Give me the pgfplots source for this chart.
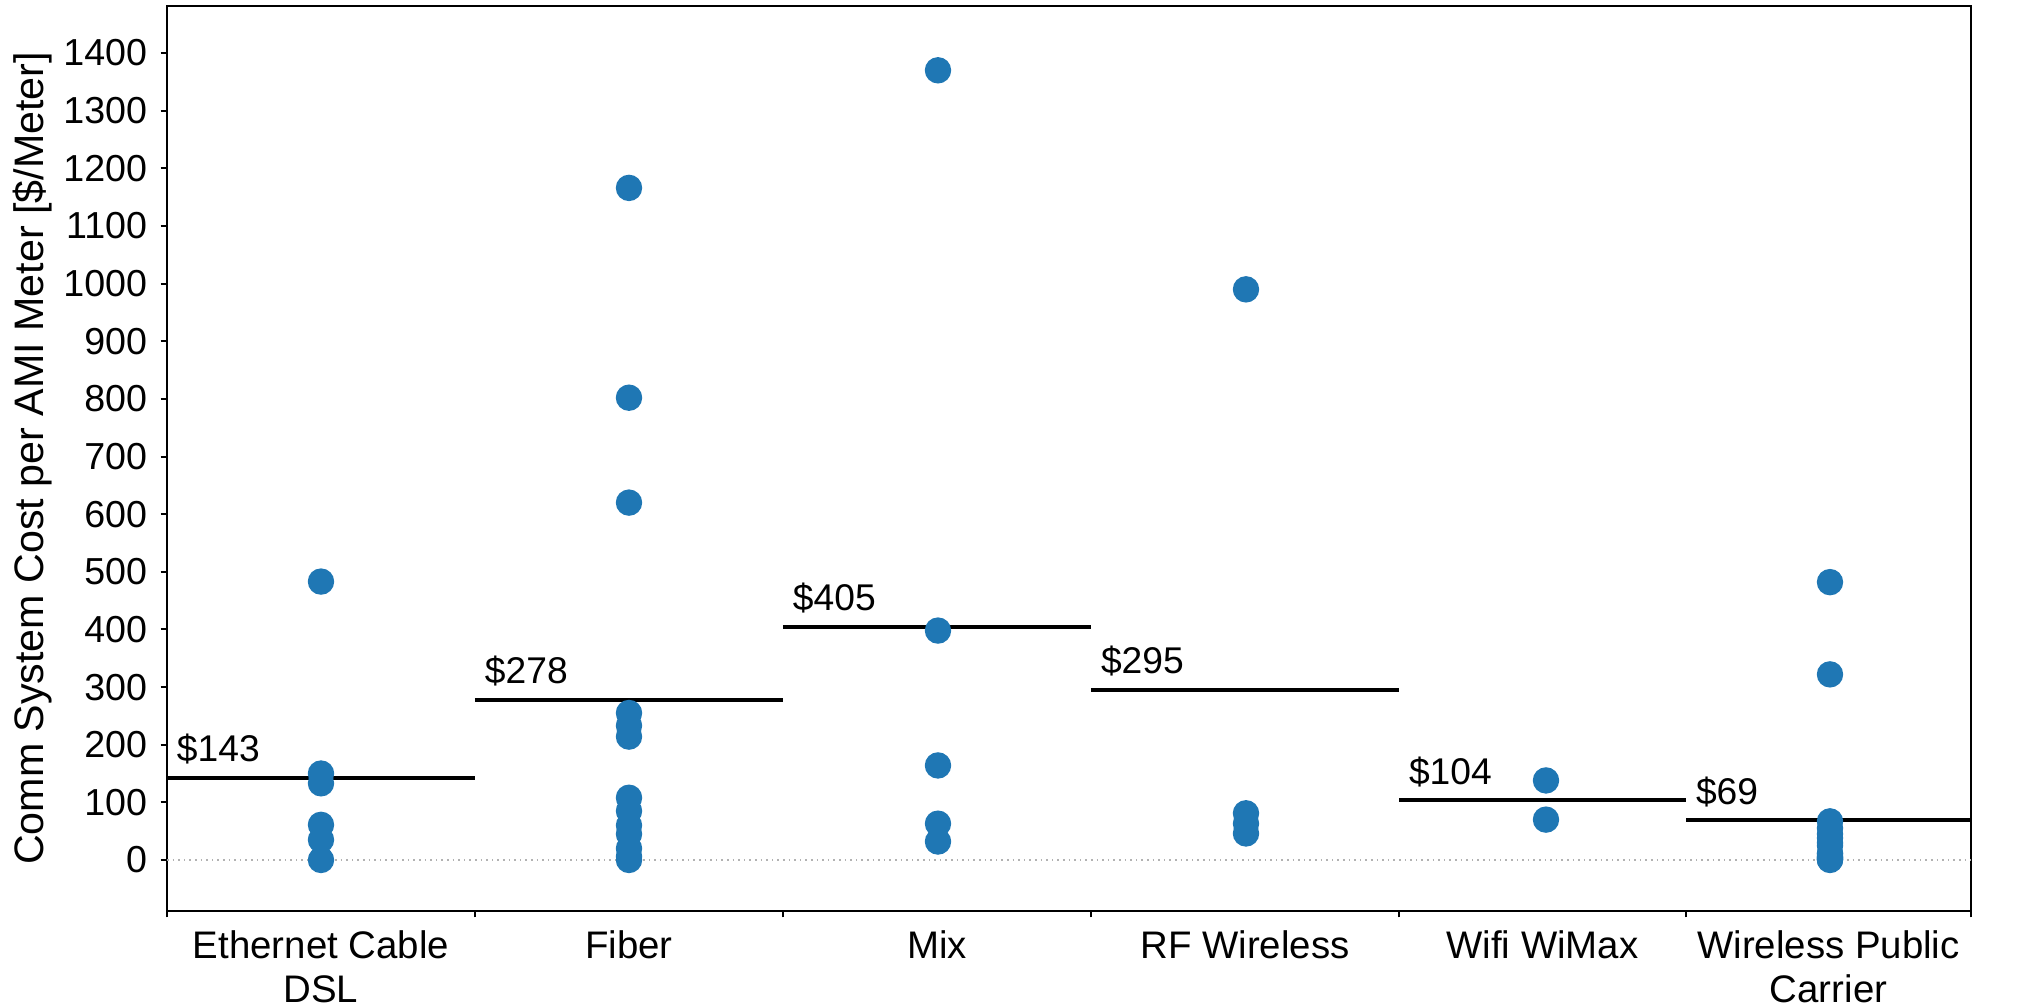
\documentclass[border=0pt]{standalone}
\usepackage{fontspec}
\setmainfont{Liberation Sans}
\usepackage{pgfplots}
\pgfplotsset{compat=1.18}
\definecolor{dotblue}{HTML}{1F77B4}
\begin{document}
\fontsize{9.3}{11}\selectfont
\begin{tikzpicture}
\path[use as bounding box] (-41.75pt,-23.5pt) rectangle (462.5pt,227.75pt);
\begin{axis}[
    at={(0pt,0pt)}, anchor=south west,
    scale only axis,
    width=451pt, height=226.25pt,
    xmin=0, xmax=18.04,
    ymin=-88.5, ymax=1481.6,
    axis line style={line width=0.7pt},
    tick pos=left, tick align=outside,
    major tick length=1.6pt,
    tick style={black, line width=0.5pt},
    xtick={0,3.08,6.16,9.24,12.32,15.19,18.04},
    xticklabels={},
    extra x ticks={1.54,4.62,7.70,10.78,13.755,16.615},
    extra x tick labels={Ethernet Cable\\DSL, Fiber, Mix, RF Wireless, Wifi WiMax, Wireless Public\\Carrier},
    extra x tick style={major tick length=0pt},
    x tick label style={align=center, anchor=north, inner sep=0pt, yshift=-4.6pt, font=\fontsize{9.6}{11}\selectfont},
    ytick={0,100,...,1400},
    y tick label style={anchor=east, inner sep=0pt, xshift=-3.2pt, font=\fontsize{9.4}{11}\selectfont},
    /pgf/number format/1000 sep={},
    /pgf/number format/assume math mode=true,
    ylabel={Comm System Cost per AMI Meter [\$/Meter]},
    every axis y label/.style={at={(axis description cs:-0.0632,0.5)}, rotate=90, anchor=south, inner sep=0pt, font=\fontsize{10.3}{12}\selectfont},
]
% zero line
\addplot[gray!60, densely dotted, line width=0.4pt] coordinates {(0,0) (18.04,0)};

% individual utilities
\addplot[only marks, mark=*, mark size=3.1pt, color=dotblue] coordinates {
    (1.54,483) (1.54,150) (1.54,133) (1.54,61) (1.54,35) (1.54,0)};
\addplot[only marks, mark=*, mark size=3.1pt, color=dotblue] coordinates {
    (4.62,1166) (4.62,802) (4.62,620) (4.62,255) (4.62,233) (4.62,214)
    (4.62,108) (4.62,85) (4.62,60) (4.62,45) (4.62,20) (4.62,6) (4.62,0)};
\addplot[only marks, mark=*, mark size=3.1pt, color=dotblue] coordinates {
    (7.71,1370) (7.71,398) (7.71,164) (7.71,63) (7.71,32)};
\addplot[only marks, mark=*, mark size=3.1pt, color=dotblue] coordinates {
    (10.79,990) (10.79,81) (10.79,63) (10.79,46)};
\addplot[only marks, mark=*, mark size=3.1pt, color=dotblue] coordinates {
    (13.79,138) (13.79,70)};
\addplot[only marks, mark=*, mark size=3.1pt, color=dotblue] coordinates {
    (16.63,482) (16.63,322) (16.63,67) (16.63,55) (16.63,45) (16.63,38)
    (16.63,30) (16.63,25) (16.63,12) (16.63,10) (16.63,6) (16.63,5)
    (16.63,3) (16.63,2) (16.63,1) (16.63,0)};

% category means
\addplot[black, line width=1pt] coordinates {(0,143) (3.08,143)}
    node[pos=0, anchor=base west, inner sep=0pt, xshift=2pt, yshift=4pt] {\$143};
\addplot[black, line width=1pt] coordinates {(3.08,278) (6.16,278)}
    node[pos=0, anchor=base west, inner sep=0pt, xshift=2pt, yshift=4pt] {\$278};
\addplot[black, line width=1pt] coordinates {(6.16,405) (9.24,405)}
    node[pos=0, anchor=base west, inner sep=0pt, xshift=2pt, yshift=4pt] {\$405};
\addplot[black, line width=1pt] coordinates {(9.24,295) (12.32,295)}
    node[pos=0, anchor=base west, inner sep=0pt, xshift=2pt, yshift=4pt] {\$295};
\addplot[black, line width=1pt] coordinates {(12.32,104) (15.19,104)}
    node[pos=0, anchor=base west, inner sep=0pt, xshift=2pt, yshift=4pt] {\$104};
\addplot[black, line width=1pt] coordinates {(15.19,69) (18.04,69)}
    node[pos=0, anchor=base west, inner sep=0pt, xshift=2pt, yshift=4pt] {\$69};
\end{axis}
\end{tikzpicture}
\end{document}
